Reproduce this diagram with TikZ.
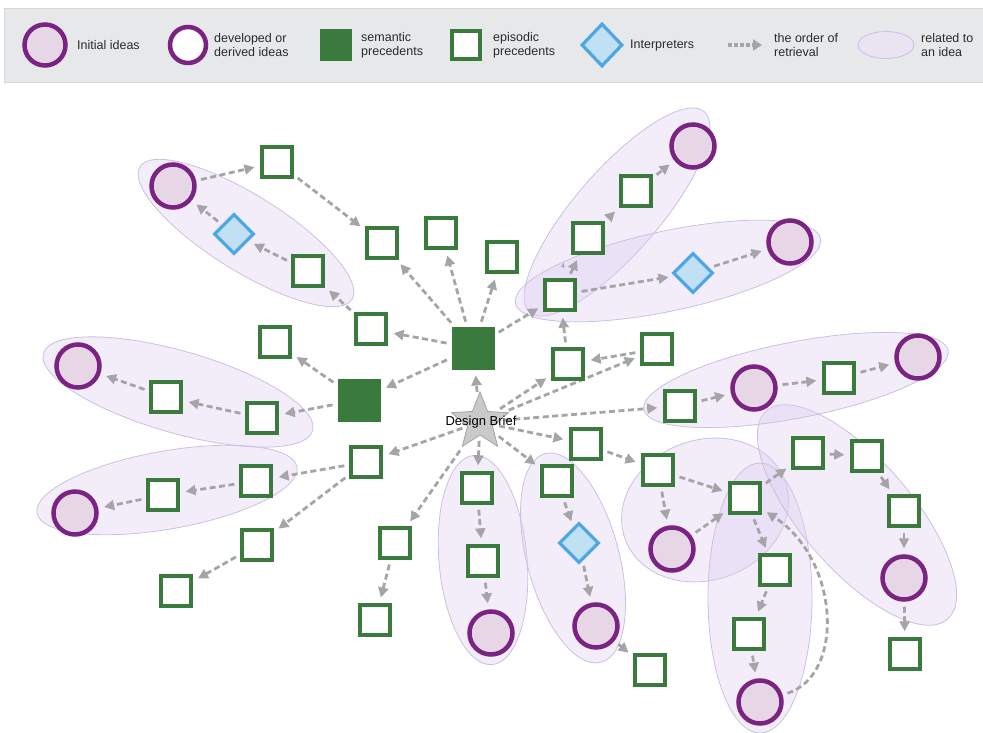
\documentclass[tikz,border=0pt]{standalone}
\usepackage{fontspec}
\setmainfont{Liberation Sans}
\usetikzlibrary{shapes.geometric,arrows.meta}

\definecolor{ideaedge}{HTML}{7A2382}
\definecolor{ideafill}{HTML}{E6D6E6}
\definecolor{precgreen}{HTML}{3A7A3C}
\definecolor{interpedge}{HTML}{4EA6E2}
\definecolor{interpfill}{HTML}{BFE1F3}
\definecolor{flowgrey}{HTML}{A5A5A7}
\definecolor{groupfill}{HTML}{DCCDEF}
\definecolor{groupedge}{HTML}{CDBFE4}
\definecolor{legendbg}{HTML}{E7E8EA}
\definecolor{legendedge}{HTML}{D6D7DA}
\definecolor{starfill}{HTML}{CACACC}
\definecolor{staredge}{HTML}{A3A3A5}
\definecolor{textgrey}{HTML}{2A2A2A}

\pgfdeclarelayer{groups}
\pgfdeclarelayer{links}
\pgfsetlayers{groups,links,main}

\tikzset{
  idea/.style={circle, draw=ideaedge, fill=ideafill, line width=4.5pt, minimum size=43pt, inner sep=0pt},
  semprec/.style={rectangle, fill=precgreen, draw=precgreen, line width=1pt, minimum size=42pt, inner sep=0pt},
  episodic/.style={rectangle, draw=precgreen, fill=white, line width=3.4pt, minimum size=30pt, inner sep=0pt},
  interp/.style={diamond, aspect=1, draw=interpedge, fill=interpfill, line width=3.2pt, minimum size=40pt, inner sep=0pt},
  brief/.style={star, star points=5, star point ratio=2.3, minimum size=60pt, inner sep=0pt,
    fill=starfill, draw=staredge, line width=0.8pt},
  flow/.style={draw=flowgrey, line width=2.8pt, dash pattern=on 6pt off 3.5pt,
    -{Triangle[length=10pt,width=10pt]}, shorten <=5pt, shorten >=6pt},
  group/.style={fill=groupfill, fill opacity=0.36, draw=groupedge, line width=0.8pt},
  lgtext/.style={anchor=west, align=left, inner sep=0pt, text=textgrey,
    font=\fontsize{12.5}{14}\selectfont},
}

\begin{document}
\begin{tikzpicture}[x=1pt, y=-1pt]
\useasboundingbox (0,0) rectangle (983,733);

% ---------- legend ----------
\fill[legendbg, draw=legendedge, line width=0.6pt] (4,8) rectangle (984,82);
\node[idea, minimum size=41pt] (lgidea) at (45,45) {};
\node[lgtext] (lgideatxt) at (77,45) {Initial ideas};
\node[idea, fill=white, minimum size=36pt] (lgdev) at (188,45) {};
\node[lgtext] (lgdevtxt) at (214,45) {developed or\\derived ideas};
\node[semprec, minimum size=31pt] (lgsem) at (336,45) {};
\node[lgtext] (lgsemtxt) at (361,45) {semantic\\precedents};
\node[episodic, minimum size=28pt] (lgepi) at (466,45) {};
\node[lgtext] (lgepitxt) at (493,45) {episodic\\precedents};
\node[interp, minimum width=41pt, minimum height=43pt, aspect=0.95] (lgint) at (602,45) {};
\node[lgtext] (lginttxt) at (630,45) {Interpreters};
\coordinate (lgfrom) at (728,45);
\coordinate (lgto) at (762,45);
\draw[flow, line width=3.8pt, shorten <=0pt, shorten >=0pt, dash pattern=on 4pt off 2pt,
      -{Triangle[length=9pt,width=11pt]}] (lgfrom) -- (lgto);
\node[lgtext] (lgflowtxt) at (774,45) {the order of\\retrieval};
\node[ellipse, minimum width=56pt, minimum height=27pt, fill=white!40!groupfill!70!legendbg,
      draw=groupedge, line width=0.8pt] (lgrel) at (886,45) {};
\node[lgtext] (lgreltxt) at (921,45) {related to\\an idea};

% ---------- centre ----------
\node[brief] (db) at (480,422) {};
\node[inner sep=0pt, font=\fontsize{13}{15}\selectfont] (dbtxt) at (481,422) {Design Brief};
\node[semprec] (m1) at (473,348) {};
\node[semprec] (m2) at (359,400) {};

% ---------- episodic precedents ----------
\node[episodic] (s1) at (277,162) {};
\node[episodic] (s2) at (382,243) {};
\node[episodic] (s3) at (441,233) {};
\node[episodic] (s4) at (502,257) {};
\node[episodic] (s5) at (308,271) {};
\node[episodic] (s6) at (371,329) {};
\node[episodic] (s7) at (275,342) {};
\node[episodic] (s8) at (166,397) {};
\node[episodic] (s9) at (262,418) {};
\node[episodic] (s10) at (366,462) {};
\node[episodic] (s11) at (256,481) {};
\node[episodic] (s12) at (163,495) {};
\node[episodic] (s13) at (257,545) {};
\node[episodic] (s14) at (176,591) {};
\node[episodic] (s15) at (395,543) {};
\node[episodic] (s16) at (375,620) {};
\node[episodic] (s17) at (477,488) {};
\node[episodic] (s18) at (483,561) {};
\node[episodic] (s19) at (557,481) {};
\node[episodic] (s20) at (586,444) {};
\node[episodic] (s21) at (650,670) {};
\node[episodic] (s22) at (568,364) {};
\node[episodic] (s23) at (657,349) {};
\node[episodic] (s24) at (680,406) {};
\node[episodic] (s25) at (839,378) {};
\node[episodic] (s26) at (658,470) {};
\node[episodic] (s27) at (745,498) {};
\node[episodic] (s28) at (808,453) {};
\node[episodic] (s29) at (867,456) {};
\node[episodic] (s30) at (904,511) {};
\node[episodic] (s31) at (775,570) {};
\node[episodic] (s32) at (749,634) {};
\node[episodic] (s33) at (905,654) {};
\node[episodic] (s34) at (560,295) {};
\node[episodic] (s35) at (588,238) {};
\node[episodic] (s36) at (636,191) {};

% ---------- ideas ----------
\node[idea] (c1) at (173,186) {};
\node[idea] (c2) at (693,146) {};
\node[idea] (c3) at (790,242) {};
\node[idea] (c4) at (78,366) {};
\node[idea] (c5) at (754,388) {};
\node[idea] (c6) at (918,357) {};
\node[idea] (c7) at (75,513) {};
\node[idea] (c8) at (672,549) {};
\node[idea] (c9) at (904,578) {};
\node[idea] (c10) at (491,633) {};
\node[idea] (c11) at (596,626) {};
\node[idea] (c12) at (760,702) {};

% ---------- interpreters ----------
\node[interp] (d1) at (234,234) {};
\node[interp] (d2) at (693,273) {};
\node[interp] (d3) at (579,543) {};

\node[inner sep=0pt, text=flowgrey!80!black, font=\fontsize{7}{8}\selectfont] (step4) at (563,266) {4};

% ---------- retrieval order ----------
\begin{pgfonlayer}{links}
\draw[flow] (db) -- (m1);
\draw[flow] (m1) -- (m2);
\draw[flow] (m1) -- (s2);
\draw[flow] (m1) -- (s3);
\draw[flow] (m1) -- (s4);
\draw[flow] (m1) -- (s6);
\draw[flow] (m1) -- (s34);
\draw[flow] (s6) -- (s5);
\draw[flow] (s5) -- (d1);
\draw[flow] (d1) -- (c1);
\draw[flow] (c1) -- (s1);
\draw[flow] (s1) -- (s2);
\draw[flow] (m2) -- (s7);
\draw[flow] (m2) -- (s9);
\draw[flow] (s9) -- (s8);
\draw[flow] (s8) -- (c4);
\draw[flow] (db) -- (s10);
\draw[flow] (s10) -- (s11);
\draw[flow] (s11) -- (s12);
\draw[flow] (s12) -- (c7);
\draw[flow] (s10) -- (s13);
\draw[flow] (s13) -- (s14);
\draw[flow] (db) -- (s15);
\draw[flow] (s15) -- (s16);
\draw[flow] (db) -- (s17);
\draw[flow] (s17) -- (s18);
\draw[flow] (s18) -- (c10);
\draw[flow] (db) -- (s19);
\draw[flow] (s19) -- (d3);
\draw[flow] (d3) -- (c11);
\draw[flow] (c11) -- (s21);
\draw[flow] (db) -- (s20);
\draw[flow] (s20) -- (s26);
\draw[flow] (s26) -- (c8);
\draw[flow] (s26) -- (s27);
\draw[flow] (c8) -- (s27);
\draw[flow] (s27) -- (s28);
\draw[flow] (s28) -- (s29);
\draw[flow] (s29) -- (s30);
\draw[flow] (s30) -- (c9);
\draw[flow] (c9) -- (s33);
\draw[flow] (s27) -- (s31);
\draw[flow] (s31) -- (s32);
\draw[flow] (s32) -- (c12);
\draw[flow] (c12) .. controls (845,675) and (840,560) .. (s27);
\draw[flow] (db) -- (s22);
\draw[flow] (db) -- (s23);
\draw[flow] (db) -- (s24);
\draw[flow] (s23) -- (s22);
\draw[flow] (s22) -- (s34);
\draw[flow] (s24) -- (c5);
\draw[flow] (c5) -- (s25);
\draw[flow] (s25) -- (c6);
\draw[flow] (s34) -- (d2);
\draw[flow] (d2) -- (c3);
\draw[flow] (s34) -- (s35);
\draw[flow] (s35) -- (s36);
\draw[flow] (s36) -- (c2);
\end{pgfonlayer}

% ---------- groups related to an idea ----------
\begin{pgfonlayer}{groups}
\draw[group, rotate around={-32:(246,233)}] (246,233) ellipse (125 and 38);
\draw[group, rotate around={49:(617,212)}] (617,212) ellipse (133 and 42);
\draw[group, rotate around={12:(668,271)}] (668,271) ellipse (156 and 40);
\draw[group, rotate around={-16:(178,392)}] (178,392) ellipse (140 and 41);
\draw[group, rotate around={10:(167,490)}] (167,490) ellipse (132 and 39);
\draw[group, rotate around={5:(483,560)}] (483,560) ellipse (44 and 105);
\draw[group, rotate around={15:(573,558)}] (573,558) ellipse (46 and 108);
\draw[group, rotate around={20:(705,510)}] (705,510) ellipse (85 and 70);
\draw[group] (760,598) ellipse (52 and 135);
\draw[group, rotate around={-49:(857,515)}] (857,515) ellipse (138 and 55);
\draw[group, rotate around={11:(796,380)}] (796,380) ellipse (155 and 38);
\end{pgfonlayer}
\end{tikzpicture}
\end{document}
